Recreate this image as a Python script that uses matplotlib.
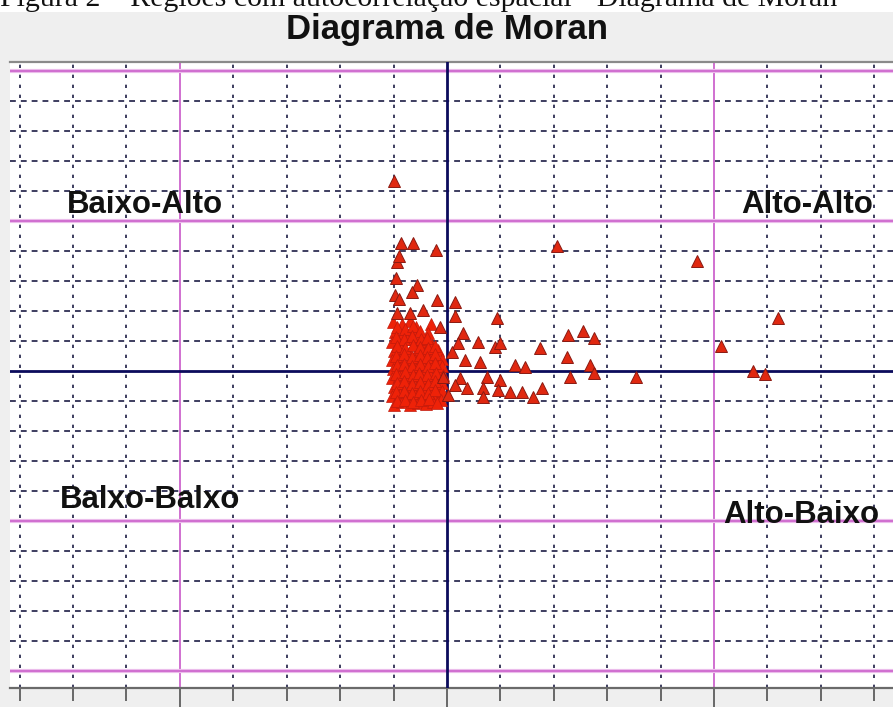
import matplotlib
matplotlib.use("Agg")
import matplotlib.pyplot as plt
import numpy as np
from matplotlib.patches import Rectangle

# ---- data (standardized value x, spatial lag y) ----
scatter_x = [-0.99, -0.86, -0.64, -0.21, -0.94, -0.90, -0.96, -0.56, -0.66, -0.97,
             -0.90, -0.19, 0.15, -0.94, -0.69, -0.45, 0.15, 0.94, -0.13, 2.06,
             4.68, 6.20, 5.13, 5.73, 5.96, 3.54, 2.27, 2.55, 2.75, 2.25,
             2.30, 2.68, 2.75, 1.74, 1.78, 1.61, 0.30, 0.21, 0.58, 0.90,
             0.99, 0.34, 0.62, 1.27, 1.46, -0.07, 0.24, 0.75, 0.99, 0.37,
             0.67, 0.96, 1.18, 1.40, 0.67, 0.09, 0.02, 0.15]
scatter_y = [6.33, 4.27, 4.27, 4.03, 3.63, 3.83, 3.10, 2.87, 2.63, 2.53,
             2.40, 2.37, 2.30, 1.93, 1.93, 2.03, 1.83, 1.77, 1.47, 4.17,
             3.67, 1.77, 0.83, 0.00, -0.10, -0.20, 1.20, 1.33, 1.10, 0.47,
             -0.20, 0.20, -0.07, 0.77, -0.57, -0.87, 1.27, 0.93, 0.97, 0.80,
             0.93, 0.37, 0.30, 0.20, 0.13, -0.20, -0.23, -0.20, -0.30, -0.57,
             -0.57, -0.63, -0.70, -0.70, -0.87, 0.63, -0.80, -0.47]

cluster_x = [-1.01, -0.85, -0.70, -0.58, -0.30,
             -0.98, -0.82, -0.66, -0.50, -0.36,
             -1.03, -0.90, -0.75, -0.61, -0.45, -0.28,
             -1.00, -0.86, -0.71, -0.57, -0.42, -0.27, -0.16,
             -1.02, -0.88, -0.73, -0.59, -0.44, -0.30, -0.18,
             -1.01, -0.87, -0.72, -0.58, -0.43, -0.29, -0.15,
             -1.02, -0.89, -0.74, -0.60, -0.45, -0.31, -0.17,
             -1.00, -0.86, -0.71, -0.57, -0.42, -0.28, -0.14,
             -1.02, -0.88, -0.73, -0.59, -0.44, -0.30, -0.20,
             -0.99, -0.84, -0.69, -0.55, -0.40, -0.26,
             -0.94, -0.79, -0.64, -0.51,
             -0.95, -0.81, -0.66, -0.49, -0.37,
             -0.93, -0.79, -0.64, -0.50, -0.35, -0.22, -0.09,
             -0.96, -0.80, -0.65, -0.51, -0.37, -0.23, -0.10,
             -0.94, -0.81, -0.66, -0.50, -0.36, -0.22, -0.08,
             -0.95, -0.79, -0.64, -0.52, -0.37, -0.21, -0.10,
             -0.93, -0.80, -0.65, -0.51, -0.36, -0.23, -0.09,
             -0.96, -0.81, -0.66, -0.50, -0.35, -0.22, -0.11,
             -0.94, -0.79, -0.64, -0.49, -0.34, -0.18]
cluster_y = [1.62, 1.55, 1.68, 1.45, 1.58,
             1.30, 1.22, 1.35, 1.18, 1.28,
             0.98, 0.92, 1.05, 0.90, 0.97, 0.85,
             0.66, 0.72, 0.60, 0.68, 0.62, 0.55, 0.70,
             0.35, 0.40, 0.30, 0.38, 0.33, 0.42, 0.28,
             0.05, 0.10, 0.02, 0.08, -0.02, 0.12, 0.00,
             -0.25, -0.18, -0.28, -0.20, -0.30, -0.15, -0.26,
             -0.55, -0.48, -0.58, -0.50, -0.60, -0.45, -0.55,
             -0.85, -0.78, -0.88, -0.80, -0.90, -0.75, -0.85,
             -1.12, -1.05, -1.15, -1.08, -1.10, -1.02,
             1.47, 1.40, 1.50, 1.32,
             1.12, 1.08, 1.18, 1.05, 1.10,
             0.82, 0.78, 0.86, 0.80, 0.75, 0.84, 0.40,
             0.50, 0.55, 0.46, 0.52, 0.48, 0.56, 0.18,
             0.20, 0.24, 0.16, 0.22, 0.18, 0.26, -0.12,
             -0.10, -0.05, -0.12, -0.08, -0.14, -0.06, -0.40,
             -0.40, -0.35, -0.42, -0.38, -0.44, -0.32, -0.68,
             -0.70, -0.66, -0.72, -0.68, -0.74, -0.62, -0.98,
             -1.00, -0.96, -1.02, -0.98, -0.95, -1.08]

quadrant_labels = ["Baixo-Alto", "Alto-Alto", "Balxo-Balxo", "Alto-Baixo"]
label_x = [-5.66, 6.74, -5.56, 6.63]
label_y = [5.53, 5.53, -4.30, -4.80]

title = "Diagrama de Moran"
caption = "Figura 2 \u2013 Regi\u00f5es com autocorrela\u00e7\u00e3o espacial - Diagrama de Moran"

# ---- figure ----
W, H = 893, 707
fig = plt.figure(figsize=(W / 100, H / 100), dpi=100, facecolor="#efefef")
fig.patches.append(Rectangle((0, 1 - 12 / H), 1, 12 / H, transform=fig.transFigure,
                             facecolor="white", edgecolor="none", zorder=0))

left, right, top, bottom = 10, 893, 62, 688
ax = fig.add_axes([left / W, (H - bottom) / H, (right - left) / W, (bottom - top) / H])
ax.set_facecolor("white")

ax.set_xlim(-8.18, 8.35)
ax.set_ylim(-10.57, 10.30)

# minor dashed grid
for gx in range(-8, 9):
    if gx in (-5, 0, 5):
        continue
    ax.axvline(gx, color="#1c1c44", lw=1.2, ls=(0, (2.0, 4.0)), zorder=1)
for gy in range(-10, 11):
    if gy in (-10, -5, 0, 5, 10):
        continue
    ax.axhline(gy, color="#1c1c44", lw=1.2, ls=(0, (3.5, 3.0)), zorder=1)

# major magenta grid
for gx in (-5, 5):
    ax.axvline(gx, color="#d070d0", lw=1.4, zorder=2)
for gy in (-10, -5, 5, 10):
    ax.axhline(gy, color="#ebbceb", lw=3.0, zorder=2)
    ax.axhline(gy, color="#c85ac8", lw=1.1, zorder=2)

# central axes
ax.axvline(0, color="#0b0b5c", lw=2.0, zorder=3)
ax.axhline(0, color="#0b0b5c", lw=2.0, zorder=3)

# points
ax.plot(cluster_x, cluster_y, ls="none", marker="^", ms=8.5,
        mfc="#ee2208", mec="#c01a0c", mew=0.5, zorder=4)
ax.plot(scatter_x, scatter_y, ls="none", marker="^", ms=8.5,
        mfc="#e02810", mec="#8a1a12", mew=0.7, zorder=5)

# quadrant labels
for t, lx, ly in zip(quadrant_labels, label_x, label_y):
    ax.text(lx, ly, t, ha="center", va="center", fontsize=22.5, fontweight="bold",
            family="Liberation Sans", color="#111111", zorder=6)

# spines and ticks
for s in ("left", "right"):
    ax.spines[s].set_visible(False)
ax.spines["top"].set_color("#8a8a8a")
ax.spines["top"].set_linewidth(1.6)
ax.spines["bottom"].set_color("#6a6a6a")
ax.spines["bottom"].set_linewidth(1.6)

ax.set_xticks([-5, 0, 5])
ax.set_xticks([g for g in range(-8, 9) if g not in (-5, 0, 5)], minor=True)
ax.tick_params(axis="x", which="major", direction="out", length=14, width=1.1,
               color="#444444", labelbottom=False)
ax.tick_params(axis="x", which="minor", direction="out", length=9, width=1.1,
               color="#444444")
ax.set_yticks([])

# title and caption
fig.text(447 / W, 1 - 30 / H, title, ha="center", va="center", fontsize=25,
         fontweight="bold", family="Liberation Sans", color="#111111")
fig.text(0.0, 1 - 6 / H, caption, ha="left", va="baseline", fontsize=21.5,
         family="Liberation Serif", color="#111111")

fig.savefig("out.png", dpi=100, facecolor=fig.get_facecolor())
